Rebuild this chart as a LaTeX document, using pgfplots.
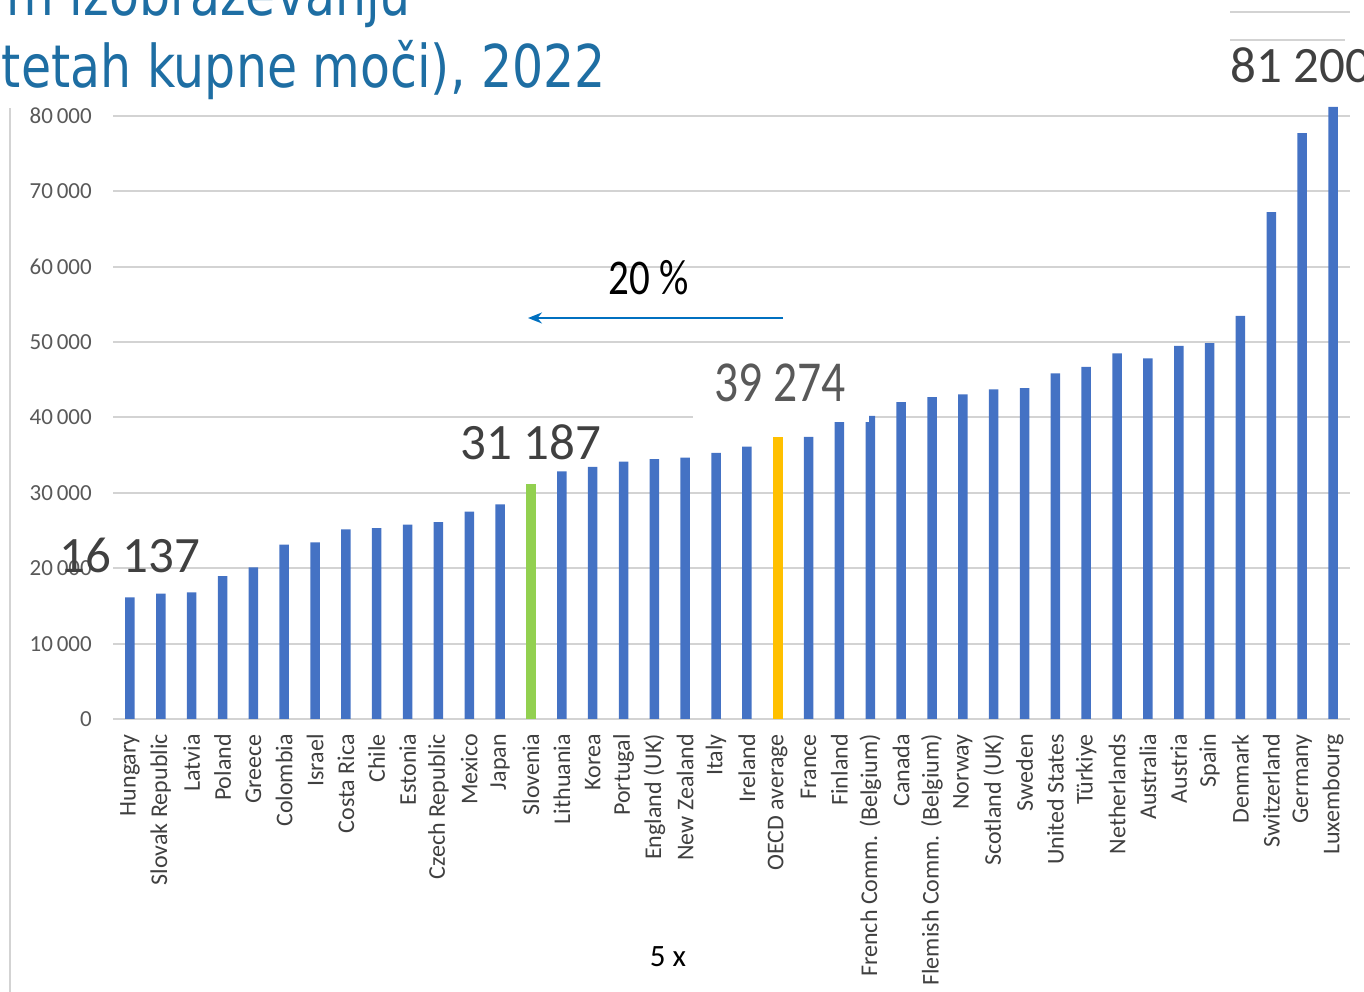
\documentclass[border=0pt]{standalone}
\usepackage{pgfplots}
\pgfplotsset{compat=1.18}
\usepackage{fontspec}
\setmainfont{Carlito}
\newfontfamily\titlefont{DejaVu Sans}
\usetikzlibrary{arrows.meta}
\definecolor{barblue}{HTML}{4472C4}
\definecolor{bargreen}{HTML}{92D050}
\definecolor{bargold}{HTML}{FFC000}
\definecolor{titleblue}{RGB}{30,110,163}
\definecolor{arrowblue}{HTML}{0070C0}
\definecolor{gridgray}{HTML}{D3D3D3}
\definecolor{ticktext}{HTML}{595959}
\definecolor{cattext}{HTML}{404040}
\begin{document}
\begin{tikzpicture}[x=1pt,y=1pt]
\useasboundingbox (0,0) rectangle (1364,992);
\clip (0,0) rectangle (1364,992);
% slide decorations
\draw[gridgray, line width=2pt] (10,0) -- (10,884);
\draw[gridgray, line width=1.5pt] (1230,980) -- (1350,980);
\draw[gridgray, line width=1.5pt] (1230,952) -- (1345,952);
% title (cropped)
\node[anchor=base east, inner sep=0pt, text=titleblue] at (411,976)
  {\scalebox{0.83}[1]{\titlefont\fontsize{59}{66}\selectfont m izobraževanju}};
\node[anchor=base east, inner sep=0pt, text=titleblue] at (606,904)
  {\scalebox{0.83}[1]{\titlefont\fontsize{59}{66}\selectfont (v paritetah kupne moči), 2022}};
\begin{axis}[
  at={(113pt,273pt)}, anchor=south west,
  width=1237pt, height=618.1pt, scale only axis,
  xmin=-0.55, xmax=39.55, ymin=0, ymax=82000,
  ybar, bar width=9.5pt, bar shift=0pt,
  axis line style={draw=none},
  major tick length=0pt,
  ymajorgrids, grid style={gridgray, line width=2pt},
  ytick={0,10000,...,80000},
  scaled y ticks=false,
  /pgf/number format/.cd, 1000 sep={\,}, assume math mode=true, /pgfplots/.cd,
  yticklabel style={font=\fontsize{23}{26}\selectfont, text=ticktext, inner sep=0pt, anchor=east},
  yticklabel shift=21pt,
  xtick={0,...,39},
  xticklabels={Hungary, Slovak Republic, Latvia, Poland, Greece, Colombia, Israel, Costa Rica, Chile, Estonia, Czech Republic, Mexico, Japan, Slovenia, Lithuania, Korea, Portugal, England (UK), New Zealand, Italy, Ireland, OECD average, France, Finland, French Comm. (Belgium), Canada, Flemish Comm. (Belgium), Norway, Scotland (UK), Sweden, United States, Türkiye, Netherlands, Australia, Austria, Spain, Denmark, Switzerland, Germany, Luxembourg},
  xticklabel style={font=\fontsize{24}{27}\selectfont, text=cattext, rotate=90, anchor=east, inner sep=0pt},
  xticklabel shift=15pt,
]
\addplot[fill=barblue, draw=none] coordinates {
 (0,16137) (1,16620) (2,16800) (3,18970) (4,20120) (5,23120) (6,23430) (7,25160) (8,25330) (9,25770)
 (10,26130) (11,27500) (12,28470) (14,32850) (15,33460) (16,34130) (17,34480) (18,34660) (19,35320)
 (20,36120) (22,37440) (23,39430) (24,40230) (25,42040) (26,42700) (27,43060) (28,43720) (29,43900)
 (30,45850) (31,46730) (32,48500) (33,47840) (34,49510) (35,49870) (36,53490) (37,67240) (38,77720) (39,81200)
};
\addplot[fill=bargreen, draw=none] coordinates {(13,31187)};
\addplot[fill=bargold, draw=none] coordinates {(21,37440)};
\end{axis}
% annotations
\fill[white] (693,570.3) rectangle (869,632);
\node[anchor=base, inner sep=0pt, text=cattext, font=\fontsize{51}{56}\selectfont] at (130,419) {16 137};
\node[anchor=base, inner sep=0pt, text=cattext, font=\fontsize{51}{56}\selectfont] at (531,532) {31 187};
\node[anchor=base, inner sep=0pt, text=ticktext] at (780,590) {\scalebox{0.82}[1]{\fontsize{58}{64}\selectfont 39 274}};
\node[anchor=base west, inner sep=0pt, text=cattext, font=\fontsize{51}{56}\selectfont] at (1230,909) {81 200};
\node[anchor=base, inner sep=0pt, text=black] at (649,697) {\scalebox{0.82}[1]{\fontsize{50}{56}\selectfont 20 \%}};
\draw[-{Stealth[length=14pt,width=11pt]}, line width=2pt, arrowblue] (783,674) -- (528,674);
\node[anchor=base, inner sep=0pt, text=black, font=\fontsize{31}{36}\selectfont] at (668,25) {5 x};
\end{tikzpicture}
\end{document}
